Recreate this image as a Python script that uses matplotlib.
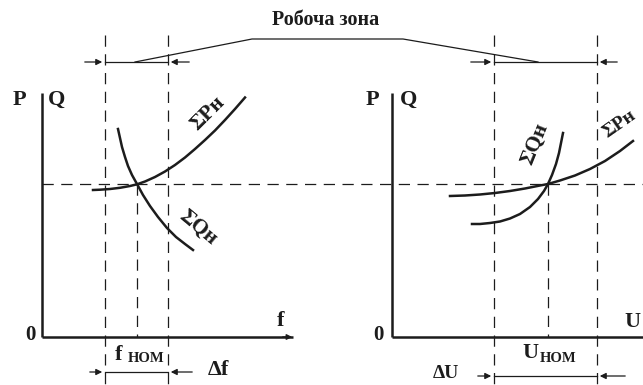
import matplotlib.pyplot as plt

# curve points (pixel coordinates, y down)
p_left_x = [93, 100, 110, 120, 130, 137, 145, 155, 165, 175, 185, 195, 205, 215, 225, 235, 245]
p_left_y = [190, 189.7, 189, 187.8, 186, 184.3, 181.5, 177, 171.5, 165, 157.5, 149, 140, 130.5, 120, 109, 97.5]
q_left_x = [118, 120, 122, 125, 128, 132, 137, 143, 150, 158, 167, 176, 185, 193]
q_left_y = [129, 138, 147, 157, 166, 175, 184, 195, 206, 217, 228, 237, 244, 250]

p_right_x = [450, 465, 480, 495, 510, 525, 540, 548, 560, 575, 590, 605, 620, 633]
p_right_y = [196, 195.5, 194.5, 193, 191, 188.5, 185.5, 184, 180.5, 175.5, 169, 161, 151, 141]
q_right_x = [472, 480, 490, 500, 510, 520, 530, 538, 544, 548, 552, 556, 559, 561, 563]
q_right_y = [224, 224, 223, 221.5, 218.5, 214, 207, 199, 191, 184, 175, 164, 153, 143, 133]

zone_left = [105, 168]      # f working zone
zone_right = [494, 597]     # U working zone
f_nom = 137
u_nom = 548
level = 184

ink = '#1c1c1c'
serif = ['Liberation Serif', 'DejaVu Serif']

fig = plt.figure(figsize=(6.43, 3.85), dpi=100)
ax = fig.add_axes([0, 0, 1, 1])
ax.set_xlim(0, 643)
ax.set_ylim(385, 0)
ax.axis('off')

dash = dict(color=ink, lw=0.9, dashes=(9, 6))

# axes of both panels
for x0, x1 in [(42, 293), (392, 643)]:
    ax.plot([x0, x0], [93, 337], color=ink, lw=1.8, solid_capstyle='butt')
    ax.plot([x0, x1], [337, 337], color=ink, lw=1.8, solid_capstyle='butt')
ax.annotate('', xy=(295, 337), xytext=(280, 337),
            arrowprops=dict(arrowstyle='-|>', color=ink, lw=1, mutation_scale=8))

# dashed guide lines
ax.plot([42, 643], [level, level], **dash)
for x in zone_left + zone_right:
    ax.plot([x, x], [35, 385], **dash)
for x in [f_nom, u_nom]:
    ax.plot([x, x], [level, 337], **dash)

# curves
for xs, ys in [(p_left_x, p_left_y), (q_left_x, q_left_y),
               (p_right_x, p_right_y), (q_right_x, q_right_y)]:
    ax.plot(xs, ys, color=ink, lw=1.8, solid_joinstyle='round')

arr = dict(arrowstyle='-|>', color=ink, lw=0.9, mutation_scale=9)


def bracket(xa, xb, y, tail_l, tail_r):
    ax.plot([xa, xb], [y, y], color=ink, lw=0.9)
    ax.annotate('', xy=(xa, y), xytext=(tail_l, y), arrowprops=arr)
    ax.annotate('', xy=(xb, y), xytext=(tail_r, y), arrowprops=arr)


bracket(zone_left[0], zone_left[1], 62, 82, 192)
bracket(zone_right[0], zone_right[1], 62, 468, 620)
bracket(zone_left[0], zone_left[1], 372, 87, 195)
bracket(zone_right[0], zone_right[1], 376, 475, 628)

# "working zone" leader
ax.plot([135, 252, 403, 538], [62, 39, 39, 62], color=ink, lw=0.9)

txt = dict(family=serif, weight='bold', color=ink, ha='center', va='center')
ax.text(326, 20, 'Робоча зона', fontsize=14.5, **txt)

ax.text(19, 100, 'P', fontsize=16, **txt)
ax.text(57, 100, 'Q', fontsize=16, **txt)
ax.text(30, 335, '0', fontsize=15, **txt)
ax.text(281, 321, 'f', fontsize=16, **txt)
ax.text(372, 100, 'P', fontsize=16, **txt)
ax.text(409, 100, 'Q', fontsize=16, **txt)
ax.text(378, 335, '0', fontsize=15, **txt)
ax.text(632, 322, 'U', fontsize=16, **txt)

ax.text(119, 355, 'f', fontsize=16, **txt)
ax.text(146, 359, 'НОМ', fontsize=10.5, **txt)
ax.text(530, 353, 'U', fontsize=16, **txt)
ax.text(558, 358, 'НОМ', fontsize=10.5, **txt)
ax.text(218, 370, 'Δf', fontsize=16, **txt)
ax.text(446, 373, 'ΔU', fontsize=14, **txt)

ax.text(208, 113, 'ΣPн', fontsize=15.5, rotation=45, **txt)
ax.text(198, 228, 'ΣQн', fontsize=15.5, rotation=-40, **txt)
ax.text(535, 144, 'ΣQн', fontsize=15.5, rotation=68, **txt)
ax.text(619, 124, 'ΣPн', fontsize=14, rotation=35, **txt)

fig.savefig('out.png', dpi=100, facecolor='white')
